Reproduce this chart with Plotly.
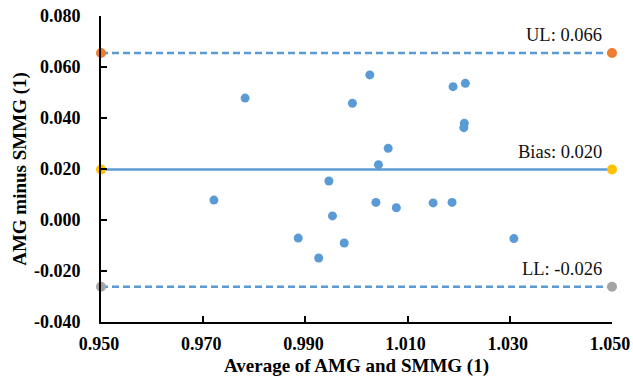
import plotly.graph_objects as go

avg_vals = [0.9782, 0.9992, 0.9946, 0.9721, 1.0026, 1.0189, 1.0213, 1.0211, 1.0210, 1.0062,
            1.0043, 0.9953, 0.9886, 0.9976, 0.9926, 1.0038, 1.0078, 1.0150, 1.0187, 1.0308]
diff_vals = [0.0478, 0.0458, 0.0153, 0.0078, 0.0569, 0.0523, 0.0536, 0.0379, 0.0362, 0.0281,
             0.0217, 0.0016, -0.0071, -0.0090, -0.0149, 0.0069, 0.0048, 0.0067, 0.0069, -0.0073]

x_ends = [0.95, 1.05]
ul_val = 0.0655
bias_val = 0.0198
ll_val = -0.0262
ul_label = "UL: 0.066"
bias_label = "Bias: 0.020"
ll_label = "LL: -0.026"

x_ticks = [0.95, 0.97, 0.99, 1.01, 1.03, 1.05]
y_ticks = [-0.04, -0.02, 0.0, 0.02, 0.04, 0.06, 0.08]

blue = "#5B9BD5"
fig = go.Figure()
fig.add_trace(go.Scatter(x=x_ends, y=[ul_val, ul_val], mode="lines+markers",
                         line=dict(color=blue, width=2.5, dash="7px,4px"),
                         marker=dict(color="#ED7D31", size=10), cliponaxis=False))
fig.add_trace(go.Scatter(x=x_ends, y=[bias_val, bias_val], mode="lines+markers",
                         line=dict(color=blue, width=2.5),
                         marker=dict(color="#FFC000", size=10), cliponaxis=False))
fig.add_trace(go.Scatter(x=x_ends, y=[ll_val, ll_val], mode="lines+markers",
                         line=dict(color=blue, width=2.5, dash="7px,4px"),
                         marker=dict(color="#A5A5A5", size=10), cliponaxis=False))
fig.add_trace(go.Scatter(x=avg_vals, y=diff_vals, mode="markers",
                         marker=dict(color=blue, size=9), cliponaxis=False))

for txt, yv in [(ul_label, ul_val), (bias_label, bias_val), (ll_label, ll_val)]:
    fig.add_annotation(x=1.0485, y=yv, text=txt, showarrow=False, xanchor="right",
                       yanchor="bottom", yshift=6,
                       font=dict(family="Liberation Serif", size=18.5, color="#111"))

tickfont = dict(family="Liberation Serif", size=18, color="black", weight="bold")
titlefont = dict(family="Liberation Serif", size=19, color="black", weight="bold")
fig.update_layout(
    width=633, height=383, showlegend=False,
    paper_bgcolor="white", plot_bgcolor="white",
    margin=dict(l=101, r=21, t=16, b=61),
    xaxis=dict(range=[0.95, 1.05], tickvals=x_ticks, ticktext=[f"{v:.3f}" for v in x_ticks],
               showgrid=False, zeroline=False, showline=True, linecolor="black", linewidth=2,
               ticks="inside", ticklen=6, tickwidth=2, tickcolor="black", tickfont=tickfont,
               ticklabelstandoff=4, ticklabelshift=-2, automargin=False, ticklabeloverflow="allow",
               title=dict(text="Average of AMG and SMMG (1)", font=titlefont, standoff=6)),
    yaxis=dict(range=[-0.04, 0.08], tickvals=y_ticks, ticktext=[f"{v:.3f}" for v in y_ticks],
               showgrid=False, zeroline=False, showline=True, linecolor="black", linewidth=2,
               ticks="inside", ticklen=6, tickwidth=2, tickcolor="black", tickfont=tickfont,
               ticklabelstandoff=15, automargin=False, ticklabeloverflow="allow",
               title=dict(text="AMG minus SMMG (1)", font=titlefont, standoff=2)),
)
fig.write_html("out.html", config={"displayModeBar": False},
               post_script="document.body.style.margin='0';")
